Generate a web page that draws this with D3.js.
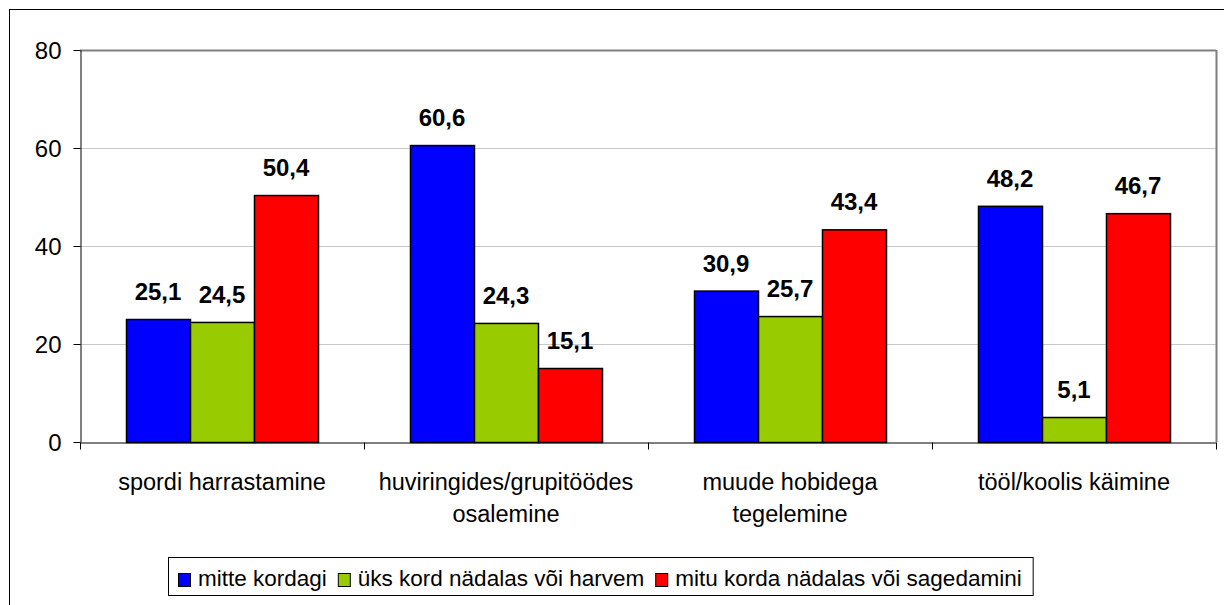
<!DOCTYPE html>
<html>
<head>
<meta charset="utf-8">
<script src="https://cdn.jsdelivr.net/npm/d3@7"></script>
<style>
  body { margin: 0; background: #fff; }
  text { font-family: Arial, "Liberation Sans", sans-serif; }
</style>
</head>
<body>
<svg width="1224" height="605"></svg>
<script>
const width = 1224, height = 605;
const svg = d3.select("svg");

// data
const categories = [
  ["spordi harrastamine"],
  ["huviringides/grupitöödes", "osalemine"],
  ["muude hobidega", "tegelemine"],
  ["tööl/koolis käimine"]
];
const seriesNames = ["mitte kordagi", "üks kord nädalas või harvem", "mitu korda nädalas või sagedamini"];
const seriesColors = ["#0000FF", "#99CC00", "#FF0000"];
const mitteKordagi = [25.1, 60.6, 30.9, 48.2];
const uksKord = [24.5, 24.3, 25.7, 5.1];
const mituKorda = [50.4, 15.1, 43.4, 46.7];
const yTicks = [0, 20, 40, 60, 80];

const values = [mitteKordagi, uksKord, mituKorda];

// outer frame
svg.append("rect")
  .attr("x", 9.5).attr("y", 9.5)
  .attr("width", 1240).attr("height", 620)
  .attr("fill", "none").attr("stroke", "#000");

const plot = { left: 80, top: 50, right: 1216, bottom: 442 };

const x0 = d3.scaleBand()
  .domain(d3.range(categories.length))
  .range([plot.left, plot.right]);

const x1 = d3.scaleBand()
  .domain(d3.range(seriesNames.length))
  .range([46, x0.bandwidth() - 46]);

const y = d3.scaleLinear().domain([0, 80]).range([plot.bottom, plot.top]);

// gridlines
svg.append("g").selectAll("line")
  .data(yTicks.filter(t => t > 0))
  .enter().append("line")
  .attr("x1", plot.left).attr("x2", plot.right)
  .attr("y1", d => y(d) + 0.5).attr("y2", d => y(d) + 0.5)
  .attr("stroke", d => d === 80 ? "#808080" : "#c8c8c8")
  .attr("stroke-width", d => d === 80 ? 2 : 1);

// right border of plot area
svg.append("line")
  .attr("x1", plot.right + 0.5).attr("x2", plot.right + 0.5)
  .attr("y1", plot.top).attr("y2", plot.bottom)
  .attr("stroke", "#808080").attr("stroke-width", 2);

// bars
const groups = svg.append("g").selectAll("g")
  .data(categories)
  .enter().append("g")
  .attr("transform", (d, i) => `translate(${x0(i)},0)`);

groups.each(function(cat, i) {
  const g = d3.select(this);
  values.forEach((vals, s) => {
    g.append("rect")
      .attr("x", x1(s) + 0.5)
      .attr("y", y(vals[i]) + 0.5)
      .attr("width", x1.bandwidth())
      .attr("height", plot.bottom - y(vals[i]))
      .attr("fill", seriesColors[s])
      .attr("stroke", "#000")
      .attr("stroke-width", 1.5);
    g.append("text")
      .attr("x", x1(s) + x1.bandwidth() / 2)
      .attr("y", y(vals[i]) - 19)
      .attr("text-anchor", "middle")
      .attr("font-size", "24px")
      .attr("font-weight", "bold")
      .text(String(vals[i]).replace(".", ","));
  });
});

// y axis
const yAxis = svg.append("g")
  .attr("transform", `translate(${plot.left + 0.5},0)`)
  .call(d3.axisLeft(y).tickValues(yTicks).tickSize(7).tickSizeOuter(0));
yAxis.select(".domain").attr("stroke", "#000");
yAxis.selectAll(".tick line").attr("stroke", "#000");
yAxis.selectAll(".tick text")
  .attr("font-size", "24px")
  .attr("font-family", "Arial, 'Liberation Sans', sans-serif")
  .attr("fill", "#000")
  .attr("x", -19)
  .attr("dy", "0.35em");

// x axis
const xAxis = svg.append("g")
  .attr("transform", `translate(0,${plot.bottom + 0.5})`)
  .call(d3.axisBottom(x0).tickSize(7).tickSizeOuter(0).tickFormat(""));
xAxis.select(".domain").attr("stroke", "#000");
xAxis.selectAll(".tick").attr("transform", d => `translate(${x0(d) + 0.5},0)`);
xAxis.selectAll(".tick line").attr("stroke", "#000");
xAxis.append("line")
  .attr("x1", plot.right + 0.5).attr("x2", plot.right + 0.5)
  .attr("y1", 0).attr("y2", 7).attr("stroke", "#000");

// category labels
const catLabels = svg.append("g").selectAll("text")
  .data(categories)
  .enter().append("text")
  .attr("x", (d, i) => x0(i) + x0.bandwidth() / 2)
  .attr("y", 490)
  .attr("text-anchor", "middle")
  .attr("font-size", "23.5px");
catLabels.each(function(lines) {
  d3.select(this).selectAll("tspan")
    .data(lines)
    .enter().append("tspan")
    .attr("x", d3.select(this).attr("x"))
    .attr("dy", (d, j) => j === 0 ? 0 : 32)
    .text(d => d);
});

// legend
const legend = svg.append("g");
const legendBox = legend.append("rect")
  .attr("x", 168.5).attr("y", 557.5)
  .attr("height", 38)
  .attr("fill", "#fff").attr("stroke", "#000");

let lx = 178;
seriesNames.forEach((name, s) => {
  legend.append("rect")
    .attr("x", lx + 0.5).attr("y", 573.5)
    .attr("width", 12).attr("height", 13)
    .attr("fill", seriesColors[s]).attr("stroke", "#000");
  const t = legend.append("text")
    .attr("x", lx + 20).attr("y", 586)
    .attr("font-size", "22.5px")
    .text(name);
  lx += 20 + t.node().getComputedTextLength() + 11;
});
legendBox.attr("width", lx - 168);
</script>
</body>
</html>
